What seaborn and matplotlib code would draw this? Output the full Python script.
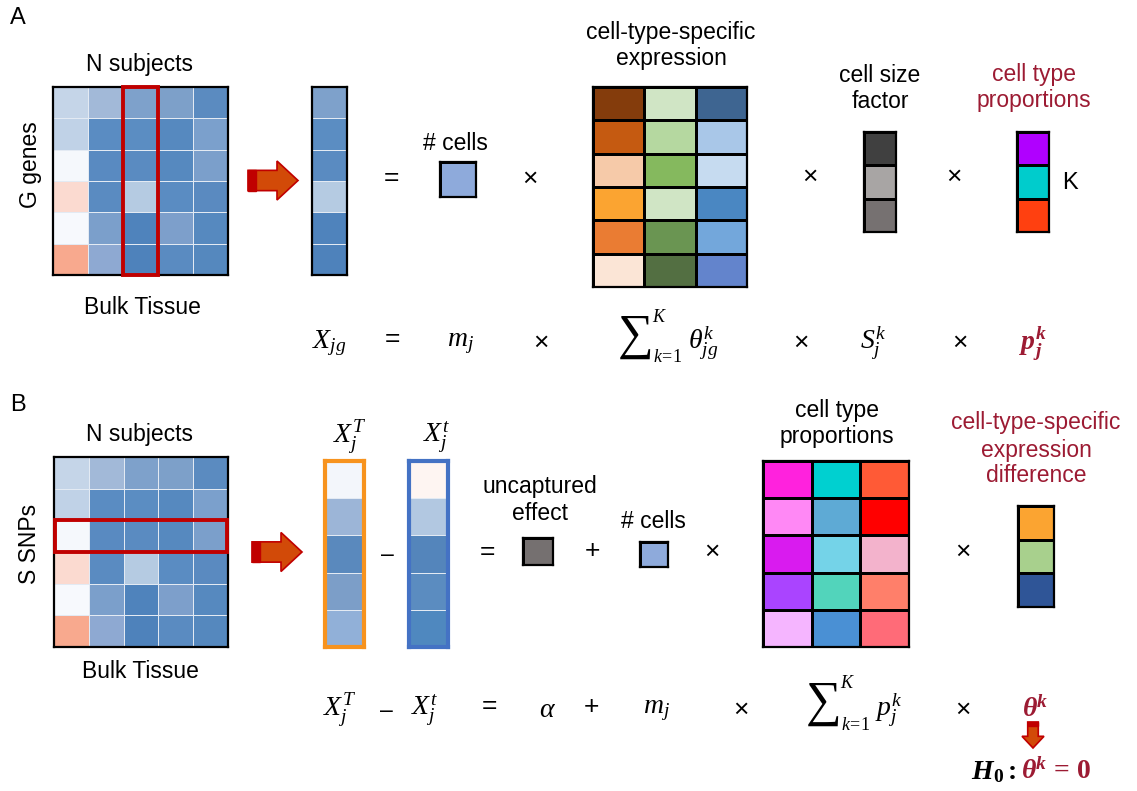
import numpy as np
import matplotlib
matplotlib.use("Agg")
import matplotlib.pyplot as plt
from matplotlib.colors import ListedColormap
from matplotlib.patches import Rectangle, Polygon
import seaborn as sns

W, H = 1137, 791
DARK_RED = "#9c1b33"

# ---- cell colours ----
bulk_cells = [
    ["#c5d5e8", "#a2b9d8", "#7ea1cb", "#7da0c9", "#5b8bc0"],
    ["#c0d2e7", "#5a8cc2", "#5b8dc2", "#5689bf", "#7ba0cc"],
    ["#f5f8fc", "#598ac1", "#5a8bc1", "#5689bf", "#7b9fcb"],
    ["#fbdad0", "#5a8bc1", "#b5cbe2", "#5a8cc2", "#5a8ac0"],
    ["#f7f9fd", "#7b9fcb", "#4f83bc", "#7d9fcb", "#5689bf"],
    ["#f8a98e", "#8ea9d2", "#4e82bb", "#5a8bc1", "#5588be"],
]
subject_col = ["#7ea1cb", "#5b8dc2", "#5a8bc1", "#b5cbe2", "#4f83bc", "#4e82bb"]
ncells_color = ["#8eaadb"]
expr_cells = [
    ["#843c0c", "#d0e5c5", "#3e6591"],
    ["#c55a11", "#b5d8a0", "#a9c7e8"],
    ["#f6caa9", "#85b95e", "#c6dbf0"],
    ["#fba431", "#d0e5c5", "#4a87c2"],
    ["#ea7c33", "#6a9552", "#73a7db"],
    ["#fbe5d6", "#536f42", "#6384cc"],
]
size_factor = ["#404040", "#a8a5a4", "#767171"]
props_a = ["#b000ff", "#00cccc", "#ff4010"]

xT_col = ["#f3f6fb", "#9cb5d7", "#5a89bd", "#7c9ec8", "#91b0d8"]
xt_col = ["#fef5f2", "#b2c8e1", "#5485bb", "#5b8cc0", "#4f88bf"]
uncaptured_color = ["#757070"]
props_b = [
    ["#ff22dd", "#00d0d0", "#ff5a36"],
    ["#ff88f5", "#5eaad5", "#ff0000"],
    ["#d91bef", "#74d3e8", "#f3b3cc"],
    ["#aa44ff", "#52d4bb", "#ff7f6a"],
    ["#f5b5ff", "#4a90d4", "#ff6b78"],
]
diff_vec = ["#fba431", "#a8d08d", "#2f5597"]

sns.set_theme(style="white")
plt.rcParams["font.family"] = ["Liberation Sans", "DejaVu Sans"]
plt.rcParams["mathtext.fontset"] = "custom"
plt.rcParams["mathtext.rm"] = "Liberation Serif"
plt.rcParams["mathtext.it"] = "Liberation Serif:italic"
plt.rcParams["mathtext.bf"] = "Liberation Serif:bold"
plt.rcParams["mathtext.bfit"] = "Liberation Serif:bold:italic"

LBL = 16.5   # label text size
MX = 20      # formula size
OP = 19      # operator size

fig = plt.figure(figsize=(W / 100, H / 100), dpi=100)
ax = fig.add_axes([0, 0, 1, 1])
ax.set_xlim(0, W)
ax.set_ylim(H, 0)
ax.axis("off")


def tile(colors, box, grid="black", glw=1.8, edge="black", elw=1.6):
    arr = np.array(colors, dtype=object)
    if arr.ndim == 1:
        arr = arr.reshape(-1, 1)
    nr, nc = arr.shape
    x0, y0, x1, y1 = box
    a = fig.add_axes([x0 / W, 1 - y1 / H, (x1 - x0) / W, (y1 - y0) / H])
    idx = np.arange(nr * nc).reshape(nr, nc)
    sns.heatmap(idx, cmap=ListedColormap(list(arr.ravel())), vmin=-0.5, vmax=nr * nc - 0.5,
                cbar=False, linewidths=glw, linecolor=grid,
                xticklabels=False, yticklabels=False, ax=a)
    for s in a.spines.values():
        s.set_visible(True)
        s.set_color(edge)
        s.set_linewidth(elw)
    return a


def arrow_right(x0, yc, L=50, h=39):
    sh = h * 0.26
    hx = x0 + L * 0.58
    pts = [(x0, yc - sh), (hx, yc - sh), (hx, yc - h / 2), (x0 + L, yc),
           (hx, yc + h / 2), (hx, yc + sh), (x0, yc + sh)]
    ax.add_patch(Polygon(pts, closed=True, fc="#d24a08", ec="#c00000", lw=1.2))
    ax.add_patch(Rectangle((x0, yc - sh), L * 0.16, 2 * sh, fc="#c00000", ec="#c00000", lw=1))


def arrow_down(xc, y0, L=26, w=22):
    sw = w * 0.24
    hy = y0 + L * 0.55
    pts = [(xc - sw, y0), (xc + sw, y0), (xc + sw, hy), (xc + w / 2, hy), (xc, y0 + L),
           (xc - w / 2, hy), (xc - sw, hy)]
    ax.add_patch(Polygon(pts, closed=True, fc="#d24a08", ec="#c00000", lw=1.2))
    ax.add_patch(Rectangle((xc - sw, y0), 2 * sw, L * 0.16, fc="#c00000", ec="#c00000", lw=1))


def t(x, y, s, size=LBL, color="black", **kw):
    ax.text(x, y, s, fontsize=size, color=color, ha=kw.pop("ha", "center"),
            va=kw.pop("va", "center"), **kw)


def sigma(xc, y, body_x, body):
    # big summation sign with limits set to its right, then the summand
    t(xc, y - 5, r"$\sum$", size=36)
    t(xc + 18, y - 26, r"$K$", size=13, ha="left")
    t(xc + 19, y + 15, r"$k\!=\!1$", size=13, ha="left")
    t(body_x, y, body, size=MX, ha="left")


# ================= panel A =================
t(10, 18, "A", size=17, ha="left")
t(140, 65, "N subjects")
t(31, 165, "G genes", rotation=90)
t(142, 307, "Bulk Tissue")

ha_ = tile(bulk_cells, (53, 87, 228, 275), grid="#e3eaf3", glw=0.5)
ha_.add_patch(Rectangle((2, 0), 1, 6, fill=False, ec="#c00000", lw=2.8, clip_on=False, zorder=5))

arrow_right(248, 180.5)
tile(subject_col, (312, 87, 347, 275), grid="#e3eaf3", glw=0.5)

t(391, 178, "=", size=OP)
t(455, 144, "# cells")
tile(ncells_color, (440, 162, 476, 197))
t(530, 179, "×", size=OP)

t(671, 33, "cell-type-specific")
t(671, 59, "expression")
tile(expr_cells, (593, 87, 747, 287))
t(810, 177, "×", size=OP)

t(880, 75, "cell size")
t(880, 101, "factor")
tile(size_factor, (864, 132, 896, 232))
t(954, 177, "×", size=OP)

t(1034, 75, "cell type", color=DARK_RED)
t(1034, 101, "proportions", color=DARK_RED)
tile(props_a, (1017, 132, 1049, 232))
t(1070, 183, "K", size=17)

# formula A
fy = 343
t(329, fy, r"$X_{jg}$", size=MX)
t(392, fy - 4, "=", size=OP)
t(460, fy, r"$m_{j}$", size=MX)
t(541, fy, "×", size=OP)
sigma(634, fy, 688, r"$\theta_{jg}^{k}$")
t(801, fy, "×", size=OP)
t(873, fy, r"$S_{j}^{k}$", size=MX)
t(960, fy, "×", size=OP)
t(1033, fy, r"$\mathbfit{p}_{\mathbfit{j}}^{\mathbfit{k}}$", size=MX, color=DARK_RED)

# ================= panel B =================
t(10, 405, "B", size=17, ha="left")
t(140, 435, "N subjects")
t(30, 544, "S SNPs", rotation=90)
t(140, 672, "Bulk Tissue")

hb = tile(bulk_cells, (54, 457, 228, 647), grid="#e3eaf3", glw=0.5)
hb.add_patch(Rectangle((0.04, 2), 4.92, 1, fill=False, ec="#c00000", lw=2.8, clip_on=False, zorder=5))

arrow_right(252, 552)

t(350, 437, r"$X_{j}^{T}$", size=MX)
tile(xT_col, (325, 461, 364, 647), grid="#e3eaf3", glw=0.6, edge="#f7931e", elw=3)
t(387, 554, "–", size=LBL)
t(437, 437, r"$X_{j}^{t}$", size=MX)
tile(xt_col, (409, 461, 448, 647), grid="#e3eaf3", glw=0.6, edge="#4472c4", elw=3)

t(487, 552, "=", size=OP)
t(540, 486, "uncaptured")
t(540, 513, "effect")
tile(uncaptured_color, (523, 538, 553, 565))
t(592, 551, "+", size=OP)
t(653, 522, "# cells")
tile(ncells_color, (640, 542, 668, 567))
t(712, 552, "×", size=OP)

t(837, 410, "cell type")
t(837, 437, "proportions")
tile(props_b, (763, 461, 909, 647))
t(963, 552, "×", size=OP)

t(1036, 422, "cell-type-specific", color=DARK_RED)
t(1036, 450, "expression", color=DARK_RED)
t(1036, 476, "difference", color=DARK_RED)
tile(diff_vec, (1018, 506, 1054, 607))

# formula B
gy = 710
t(340, gy, r"$X_{j}^{T}$", size=MX)
t(386, gy, "–", size=LBL)
t(425, gy, r"$X_{j}^{t}$", size=MX)
t(489, gy - 4, "=", size=OP)
t(548, gy, r"$\alpha$", size=MX)
t(591, gy - 3, "+", size=OP)
t(656, gy, r"$m_{j}$", size=MX)
t(741, gy, "×", size=OP)
sigma(822, gy, 875, r"$p_{j}^{k}$")
t(963, gy, "×", size=OP)
t(1035, gy, r"$\mathbfit{\theta}^{\mathbfit{k}}$", size=MX, color=DARK_RED)

arrow_down(1033, 722)
t(1016, 772, r"$\mathbfit{H}_{\mathbf{0}}\mathbf{:}$", size=MX, ha="right")
t(1021, 772, r"$\mathbfit{\theta}^{\mathbfit{k}}\mathbf{\,=\,0}$", size=MX, color=DARK_RED, ha="left")

fig.savefig("out.png", dpi=100)
